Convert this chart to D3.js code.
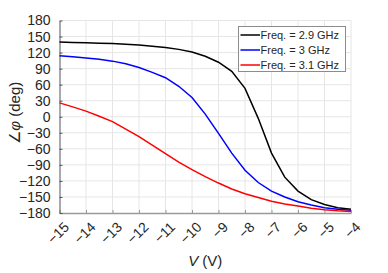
<!DOCTYPE html>
<html>
<head>
<meta charset="utf-8">
<script src="https://cdn.jsdelivr.net/npm/d3@7"></script>
<style>
  body { margin: 0; background: #fff; }
  text { font-family: "Liberation Sans", Arial, Helvetica, sans-serif; fill: #262626; }
</style>
</head>
<body>
<svg id="chart"></svg>
<script>
// bias voltage (V)
const voltage = [-15, -14.5, -14, -13.5, -13, -12.5, -12, -11.5, -11, -10.5, -10, -9.5,
                 -9, -8.5, -8, -7.5, -7, -6.5, -6, -5.5, -5, -4.5, -4];
// phase (deg) per frequency
const phase29 = [140, 139, 138.5, 137.5, 137, 135.5, 134, 132, 129.5, 126, 121, 113,
                 102, 85, 53, -3, -68, -113, -139, -155, -164, -170, -173];
const phase30 = [114, 112, 110, 107.5, 104, 99, 92, 83, 73, 57, 36, 5,
                 -31, -68, -100, -123, -139, -150, -159, -165, -170, -173, -175];
const phase31 = [26, 18.5, 10.5, 1, -9, -23, -37, -53, -69, -85, -99, -112,
                 -124, -135, -144, -151, -158, -163, -167, -171, -174, -176, -177];
const seriesNames = ["Freq. = 2.9 GHz", "Freq. = 3 GHz", "Freq. = 3.1 GHz"];
const seriesColors = ["#000000", "#0000ff", "#ff0000"];
const xTicks = d3.range(-15, -3, 1);
const yTicks = d3.range(-180, 181, 30);

const W = 388, H = 273;
const margin = { top: 20.5, right: 37, bottom: 60, left: 59.5 };
const width = W - margin.left - margin.right;
const height = H - margin.top - margin.bottom;

const svg = d3.select('#chart').attr('width', W).attr('height', H);
const chart = svg.append('g').attr('transform', `translate(${margin.left},${margin.top})`);

const x = d3.scaleLinear().domain([-15, -4]).range([0, width]);
const y = d3.scaleLinear().domain([-180, 180]).range([height, 0]);

// grid
chart.append('g').selectAll('line').data(xTicks.slice(1)).join('line')
  .attr('x1', d => x(d)).attr('x2', d => x(d)).attr('y1', 0).attr('y2', height)
  .attr('stroke', '#e6e6e6').attr('stroke-width', 1);
chart.append('g').selectAll('line').data(yTicks.slice(1)).join('line')
  .attr('x1', 0).attr('x2', width).attr('y1', d => y(d)).attr('y2', d => y(d))
  .attr('stroke', '#e6e6e6').attr('stroke-width', 1);

// axes
const xAxis = d3.axisBottom(x).tickValues(xTicks).tickSizeInner(-3).tickSizeOuter(0).tickFormat(d3.format('d'));
const yAxis = d3.axisLeft(y).tickValues(yTicks).tickSizeInner(-3).tickSizeOuter(0).tickFormat(d3.format('d'));

const xAxisG = chart.append('g').attr('transform', `translate(0,${height})`).call(xAxis);
xAxisG.select('.domain').attr('stroke', '#9a9a9a').attr('stroke-width', 1.5);
xAxisG.selectAll('.tick line').attr('stroke', '#9a9a9a');
xAxisG.selectAll('.tick text')
  .attr('font-size', 14).attr('fill', '#262626')
  .attr('text-anchor', 'end')
  .attr('dy', null).attr('y', 0)
  .attr('transform', 'translate(10,15) rotate(-45)');

const yAxisG = chart.append('g').call(yAxis);
yAxisG.select('.domain').attr('stroke', '#555').attr('stroke-width', 1);
yAxisG.selectAll('.tick line').attr('stroke', '#555');
yAxisG.selectAll('.tick text').attr('font-size', 14).attr('fill', '#262626').attr('x', -9);

// lines
const allSeries = [phase29, phase30, phase31];
const line = d3.line().x((d, i) => x(voltage[i])).y(d => y(d));
chart.append('g').selectAll('path').data(allSeries).join('path')
  .attr('d', d => line(d))
  .attr('fill', 'none')
  .attr('stroke', (d, i) => seriesColors[i])
  .attr('stroke-width', 1.5);

// axis labels
svg.append('text')
  .attr('x', margin.left + width / 2).attr('y', 266)
  .attr('text-anchor', 'middle').attr('font-size', 15)
  .call(t => {
    t.append('tspan').attr('font-style', 'italic').text('V');
    t.append('tspan').text(' (V)');
  });
svg.append('text')
  .attr('transform', `translate(20,${margin.top + height / 2 - 4}) rotate(-90)`)
  .attr('text-anchor', 'middle').attr('font-size', 15)
  .call(t => {
    t.append('tspan').text('∠');
    t.append('tspan').attr('font-style', 'italic').text('φ');
    t.append('tspan').text(' (deg)');
  });

// legend
const legend = svg.append('g').attr('transform', 'translate(238.5,26.5)');
legend.append('rect').attr('width', 107).attr('height', 45)
  .attr('fill', '#fff').attr('stroke', '#8c8c8c').attr('stroke-width', 1);
const items = legend.selectAll('g').data(seriesNames).join('g')
  .attr('transform', (d, i) => `translate(0,${8.5 + i * 15})`);
items.append('line').attr('x1', 2).attr('x2', 21.5).attr('y1', 0).attr('y2', 0)
  .attr('stroke', (d, i) => seriesColors[i]).attr('stroke-width', 1.5);
items.append('text').attr('x', 22).attr('y', 4).attr('font-size', 11).text(d => d);
</script>
</body>
</html>
